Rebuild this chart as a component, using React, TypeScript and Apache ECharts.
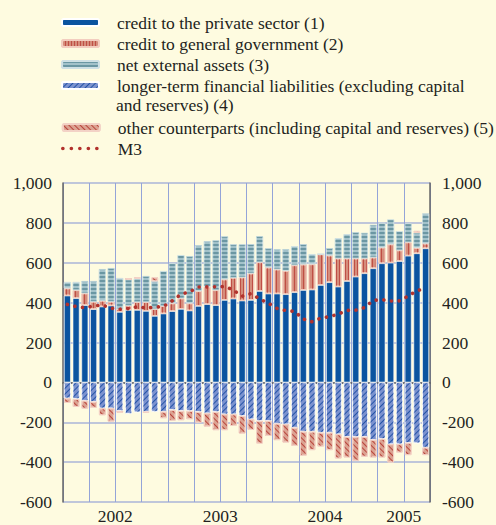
import React, { useEffect, useRef } from "react";
import * as echarts from "echarts";

const SERIF = "Liberation Serif, serif";
const TEXT = "#231f20";
const FS = 17.5;

const categories = [
  "2002-01","2002-02","2002-03","2002-04","2002-05","2002-06","2002-07","2002-08","2002-09","2002-10","2002-11","2002-12",
  "2003-01","2003-02","2003-03","2003-04","2003-05","2003-06","2003-07","2003-08","2003-09","2003-10","2003-11","2003-12",
  "2004-01","2004-02","2004-03","2004-04","2004-05","2004-06","2004-07","2004-08","2004-09","2004-10","2004-11","2004-12",
  "2005-01","2005-02","2005-03","2005-04","2005-05","2005-06",
];

// x-axis year labels: category index -> label
const yearLabelIndex = [6, 18, 30, 39];
const yearLabels = ["2002", "2003", "2004", "2005"];

const privateCredit = [435,422,387,367,380,385,353,363,363,358,333,345,357,368,360,383,392,387,413,420,410,413,458,445,445,442,452,463,465,488,502,480,508,530,547,572,597,600,608,635,647,672];
const govCredit = [37,41,60,38,30,20,15,22,40,45,35,38,40,54,37,75,88,76,104,105,117,134,145,132,122,118,136,129,128,155,135,142,114,92,75,55,80,93,55,68,28,25];
const netExternal = [31,40,61,103,158,168,155,130,118,130,139,175,200,216,236,230,228,249,215,167,165,146,130,95,101,108,95,101,50,0,36,101,121,131,128,163,123,124,95,94,75,150];
const longerTerm = [-80,-83,-92,-97,-130,-130,-143,-157,-150,-147,-147,-147,-138,-143,-143,-148,-155,-148,-160,-160,-168,-185,-193,-193,-207,-210,-227,-247,-247,-252,-252,-260,-273,-273,-273,-288,-283,-310,-310,-303,-305,-327];
const otherCounterparts = [-23,-40,-40,-30,-35,-67,-9,8,6,-6,20,-33,-55,-47,-42,-54,-67,-92,-80,-58,-89,-53,-114,-75,-83,-92,-91,-121,-93,-70,-88,-122,-104,-120,-100,-89,-94,-92,-42,-62,10,-38];
const m3 = [391,380,375,383,388,372,367,370,379,373,377,381,409,442,454,478,479,479,481,463,432,445,419,397,371,360,356,318,304,322,330,342,361,362,375,411,415,408,409,433,460,470];

const N1 = "credit to the private sector (1)";
const N2 = "credit to general government (2)";
const N3 = "net external assets (3)";
const N4 = "longer-term financial liabilities (excluding capital and reserves) (4)";
const N4_LINE1 = "longer-term financial liabilities (excluding capital";
const N4_LINE2 = "and reserves) (4)";
const N5 = "other counterparts (including capital and reserves) (5)";
const N6 = "M3";

export default function App() {
  const ref = useRef<HTMLDivElement>(null);
  useEffect(() => {
    if (!ref.current) return;
    const chart = echarts.init(ref.current, undefined, { renderer: "svg" });
    const legendText = {
      fontSize: FS,
      lineHeight: 21,
      color: TEXT,
      fontFamily: SERIF,
      padding: [0, 0, 0, 13],
    };
    const thousands = (v: number) => v.toLocaleString("en-US");
    const option: any = {
      animation: false,
      backgroundColor: "#fefbe0",
      textStyle: { fontFamily: SERIF },
      legend: [
        {
          orient: "vertical",
          left: 61,
          top: 12,
          padding: 0,
          itemGap: 0,
          itemWidth: 37,
          itemHeight: 7,
          selectedMode: false,
          data: [N1, N2, N3, N4],
          formatter: (n: string) => (n === N4 ? N4_LINE1 : n),
          textStyle: legendText,
        },
        {
          orient: "vertical",
          left: 61,
          top: 117,
          padding: 0,
          itemGap: 0,
          itemWidth: 37,
          itemHeight: 7,
          selectedMode: false,
          data: [
            N5,
            {
              name: N6,
              itemStyle: { opacity: 0 },
              lineStyle: { color: "#b2322d", width: 3.6, type: [0.1, 8.4], cap: "round" },
            },
          ],
          textStyle: legendText,
        },
      ],
      graphic: [
        {
          type: "text",
          left: 116,
          top: 96,
          style: { text: N4_LINE2, fontSize: FS, fontFamily: SERIF, fill: TEXT },
        },
      ],
      grid: { left: 63, right: 66, top: 183, bottom: 22 },
      xAxis: {
        type: "category",
        data: categories,
        axisLine: { lineStyle: { color: "#555", width: 1.5 } },
        axisTick: { interval: 2, length: 4, lineStyle: { color: "#555", width: 1.2 } },
        splitLine: { show: true, interval: 2, lineStyle: { color: "#94a4d8", width: 1 } },
        axisLabel: {
          interval: (i: number) => yearLabelIndex.includes(i),
          formatter: (_v: string, i: number) => {
            const k = yearLabelIndex.indexOf(i);
            return k >= 0 ? yearLabels[k] : "";
          },
          margin: 5,
          fontSize: FS,
          color: TEXT,
          fontFamily: SERIF,
          padding: [0, 9, 0, 0],
        },
      },
      yAxis: [
        {
          type: "value",
          position: "left",
          min: -600,
          max: 1000,
          interval: 200,
          axisLine: { show: true, lineStyle: { color: "#666", width: 1.5 } },
          axisTick: { show: false },
          splitLine: { lineStyle: { color: "#aab4d8", width: 1.5 } },
          axisLabel: { formatter: thousands, margin: 11, fontSize: FS, color: TEXT, fontFamily: SERIF },
        },
        {
          type: "value",
          position: "right",
          min: -600,
          max: 1000,
          interval: 200,
          axisLine: { show: true, lineStyle: { color: "#666", width: 1.5 } },
          axisTick: { show: false },
          splitLine: { show: false },
          axisLabel: { formatter: thousands, margin: 12, fontSize: FS, color: TEXT, fontFamily: SERIF },
        },
      ],
      series: [
        {
          name: N1,
          type: "bar",
          stack: "c",
          data: privateCredit,
          barCategoryGap: "22%",
          itemStyle: { color: "#0b54a0", borderColor: "#ffffff", borderWidth: 0.6 },
        },
        {
          name: N2,
          type: "bar",
          stack: "c",
          data: govCredit,
          itemStyle: {
            color: "#d58d7b",
            borderColor: "#f3cdbf",
            borderWidth: 1,
            decal: {
              symbol: "rect",
              symbolSize: 1,
              symbolKeepAspect: false,
              color: "#bf4f45",
              dashArrayX: [1, 1.6],
              dashArrayY: [4, 0],
              rotation: 0,
            },
          },
        },
        {
          name: N3,
          type: "bar",
          stack: "c",
          data: netExternal,
          itemStyle: {
            color: "#a3c2ca",
            borderColor: "#cfe0e4",
            borderWidth: 0.6,
            decal: {
              symbol: "rect",
              symbolSize: 1,
              symbolKeepAspect: false,
              color: "#6b97a3",
              dashArrayX: [4, 0],
              dashArrayY: [1.3, 1.7],
              rotation: 0,
            },
          },
        },
        {
          name: N4,
          type: "bar",
          stack: "c",
          data: longerTerm,
          itemStyle: {
            color: "#7b92cf",
            borderColor: "#ffffff",
            borderWidth: 0.6,
            decal: {
              symbol: "rect",
              symbolSize: 1,
              symbolKeepAspect: false,
              color: "#2453a6",
              dashArrayX: [4, 0],
              dashArrayY: [1, 3],
              rotation: -Math.PI / 4,
            },
          },
        },
        {
          name: N5,
          type: "bar",
          stack: "c",
          data: otherCounterparts,
          itemStyle: {
            color: "#dca392",
            borderColor: "#f3d2c6",
            borderWidth: 1,
            decal: {
              symbol: "rect",
              symbolSize: 1,
              symbolKeepAspect: false,
              color: "#b8443b",
              dashArrayX: [4, 0],
              dashArrayY: [1, 3],
              rotation: Math.PI / 4,
            },
          },
        },
        {
          name: N6,
          type: "line",
          data: m3,
          symbol: "none",
          z: 10,
          itemStyle: { color: "#b2322d" },
          lineStyle: { color: "#b2322d", width: 3.6, type: [0.1, 7.6], cap: "round" },
        },
      ],
    };
    chart.setOption(option);
    return () => chart.dispose();
  }, []);
  return (
    <div
      ref={ref}
      style={{ position: "absolute", left: 0, top: 0, width: 496, height: 525 }}
    />
  );
}
